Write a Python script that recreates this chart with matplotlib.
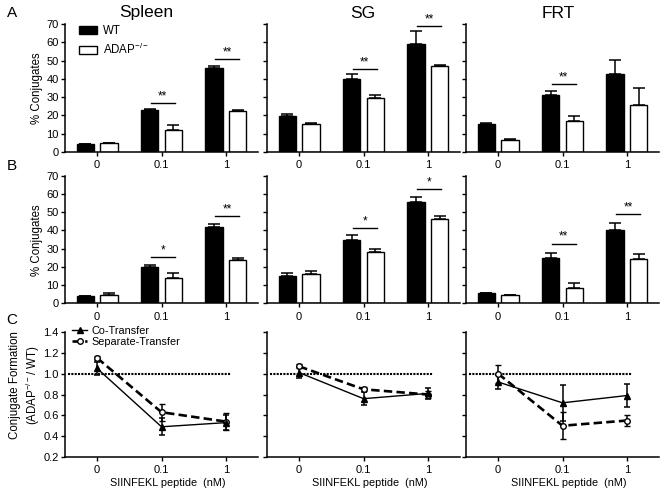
import numpy as np
import matplotlib
matplotlib.use('Agg')
import matplotlib.pyplot as plt
from matplotlib.patches import Patch
from matplotlib.lines import Line2D

plt.rcParams['font.family'] = ['Liberation Sans', 'DejaVu Sans']
plt.rcParams['mathtext.default'] = 'regular'

# ---- data ----
tissues = ['Spleen', 'SG', 'FRT']
doses = ['0', '0.1', '1']

# row A: % conjugates
spleen_a_wt = [4.3, 23.0, 46.0]
spleen_a_wt_err = [0.3, 0.5, 1.2]
spleen_a_ko = [4.7, 12.2, 22.2]
spleen_a_ko_err = [0.4, 2.4, 0.5]
sg_a_wt = [19.7, 40.0, 59.2]
sg_a_wt_err = [1.3, 2.6, 6.8]
sg_a_ko = [15.2, 29.8, 47.0]
sg_a_ko_err = [0.8, 1.6, 0.7]
frt_a_wt = [15.4, 31.4, 42.8]
frt_a_wt_err = [0.6, 1.9, 7.5]
frt_a_ko = [6.4, 17.2, 25.6]
frt_a_ko_err = [0.7, 2.5, 9.4]

# row B: % conjugates
spleen_b_wt = [4.0, 19.7, 42.0]
spleen_b_wt_err = [0.2, 1.5, 1.5]
spleen_b_ko = [4.6, 14.1, 24.0]
spleen_b_ko_err = [0.9, 2.4, 1.0]
sg_b_wt = [15.2, 34.7, 55.8]
sg_b_wt_err = [1.3, 2.8, 2.5]
sg_b_ko = [16.1, 28.3, 46.3]
sg_b_ko_err = [1.8, 1.3, 1.6]
frt_b_wt = [5.5, 25.0, 40.0]
frt_b_wt_err = [0.0, 2.8, 4.2]
frt_b_ko = [4.8, 8.4, 24.3]
frt_b_ko_err = [0.0, 2.6, 2.7]

# significance bars: (dose index, height, label)
spleen_a_sig = [(1, 26.7, '**'), (2, 50.8, '**')]
sg_a_sig = [(1, 45.3, '**'), (2, 68.7, '**')]
frt_a_sig = [(1, 37.1, '**')]
spleen_b_sig = [(1, 25.4, '*'), (2, 47.9, '**')]
sg_b_sig = [(1, 41.3, '*'), (2, 62.5, '*')]
frt_b_sig = [(1, 32.7, '**'), (2, 48.8, '**')]

# row C: conjugate formation ratio ADAP-/- / WT
spleen_co = [1.05, 0.49, 0.53]
spleen_co_err = [0.065, 0.08, 0.07]
spleen_sep = [1.15, 0.63, 0.54]
spleen_sep_err = [0.02, 0.08, 0.085]
sg_co = [1.01, 0.76, 0.81]
sg_co_err = [0.055, 0.06, 0.05]
sg_sep = [1.07, 0.85, 0.80]
sg_sep_err = [0.02, 0.02, 0.03]
frt_co = [0.92, 0.72, 0.79]
frt_co_err = [0.065, 0.17, 0.11]
frt_sep = [1.00, 0.50, 0.55]
frt_sep_err = [0.085, 0.13, 0.055]

W, H = 666, 494
fig = plt.figure(figsize=(W / 100, H / 100), dpi=100)

col_left = [65, 267, 466]
col_width = 193


def make_ax(left, top, bottom):
    return fig.add_axes([left / W, 1 - bottom / H, col_width / W, (bottom - top) / H])


def style_ax(ax):
    for s in ['top', 'right']:
        ax.spines[s].set_visible(False)
    for s in ['left', 'bottom']:
        ax.spines[s].set_linewidth(1.1)
    ax.tick_params(direction='out', length=3, width=1, labelsize=8, pad=1.5)
    ax.tick_params(axis='x', pad=3)
    ax.set_xlim(-0.5, 2.5)
    ax.set_xticks(range(3))
    ax.set_xticklabels(doses)


def bar_panel(ax, wt, wt_err, ko, ko_err, sig, show_labels):
    x = np.arange(3)
    w, off = 0.27, 0.185
    ekw = dict(elinewidth=1.1, capthick=1.1, ecolor='black')
    ax.bar(x - off, wt, w, color='black', edgecolor='black', lw=1,
           yerr=[np.zeros(3), wt_err], capsize=4.5, error_kw=ekw)
    ax.bar(x + off, ko, w, color='white', edgecolor='black', lw=1,
           yerr=[np.zeros(3), ko_err], capsize=4.5, error_kw=ekw)
    for i, y, s in sig:
        ax.plot([i - 0.17, i + 0.21], [y, y], color='black', lw=1, clip_on=False)
        ax.text(i + 0.02, y + 0.5, s, ha='center', va='bottom', fontsize=8.5, clip_on=False)
    style_ax(ax)
    ax.set_ylim(0, 70)
    ax.set_yticks(range(0, 71, 10))
    if not show_labels:
        ax.set_yticklabels([])


def line_panel(ax, co, co_err, sep, sep_err, show_labels):
    x = np.arange(3)
    ax.plot([-0.45, 2.08], [1, 1], color='black', lw=1.5, linestyle=(0, (1, 0.6)))
    ax.errorbar(x, sep, yerr=sep_err, color='black', lw=1.9, linestyle=(0, (3.2, 1.6)),
                marker='o', ms=4, mfc='white', mec='black', mew=1,
                elinewidth=1.1, capsize=2.4, capthick=1.1)
    ax.errorbar(x, co, yerr=co_err, color='black', lw=1,
                marker='^', ms=4, mfc='black', mec='black',
                elinewidth=1.1, capsize=2.4, capthick=1.1)
    style_ax(ax)
    ax.set_ylim(0.2, 1.4)
    ax.set_yticks(np.arange(0.2, 1.41, 0.2))
    if show_labels:
        ax.set_yticklabels(['%.1f' % v for v in np.arange(0.2, 1.41, 0.2)])
    else:
        ax.set_yticklabels([])
    fig.text((ax.get_position().x0 + ax.get_position().x1) / 2 + 6 / W, 1 - 483 / H,
             'SIINFEKL peptide  (nM)', ha='center', va='center', fontsize=7.8)


a_data = [(spleen_a_wt, spleen_a_wt_err, spleen_a_ko, spleen_a_ko_err, spleen_a_sig),
          (sg_a_wt, sg_a_wt_err, sg_a_ko, sg_a_ko_err, sg_a_sig),
          (frt_a_wt, frt_a_wt_err, frt_a_ko, frt_a_ko_err, frt_a_sig)]
b_data = [(spleen_b_wt, spleen_b_wt_err, spleen_b_ko, spleen_b_ko_err, spleen_b_sig),
          (sg_b_wt, sg_b_wt_err, sg_b_ko, sg_b_ko_err, sg_b_sig),
          (frt_b_wt, frt_b_wt_err, frt_b_ko, frt_b_ko_err, frt_b_sig)]
c_data = [(spleen_co, spleen_co_err, spleen_sep, spleen_sep_err),
          (sg_co, sg_co_err, sg_sep, sg_sep_err),
          (frt_co, frt_co_err, frt_sep, frt_sep_err)]

for j in range(3):
    ax = make_ax(col_left[j], 24, 152)
    bar_panel(ax, *a_data[j], show_labels=(j == 0))
    ax = make_ax(col_left[j], 175.7, 303.3)
    bar_panel(ax, *b_data[j], show_labels=(j == 0))
    ax = make_ax(col_left[j], 332, 457)
    line_panel(ax, *c_data[j], show_labels=(j == 0))

# titles and panel letters
for name, xc in zip(tissues, [146, 363, 558]):
    fig.text(xc / W, 1 - 13 / H, name, ha='center', va='center', fontsize=12.5)
for letter, yc in zip('ABC', [13, 166, 320]):
    fig.text(12 / W, 1 - yc / H, letter, ha='center', va='center', fontsize=11)

# y labels
fig.text(37 / W, 1 - 88 / H, '% Conjugates', rotation=90, ha='center', va='center', fontsize=8.3)
fig.text(37 / W, 1 - 240 / H, '% Conjugates', rotation=90, ha='center', va='center', fontsize=8.3)
fig.text(15 / W, 1 - 385 / H, 'Conjugate Formation', rotation=90, ha='center', va='center', fontsize=8.3)
fig.text(33 / W, 1 - 385 / H, '(ADAP$^{-/-}$/ WT)', rotation=90, ha='center', va='center', fontsize=8.3)

# legends
bar_handles = [Patch(facecolor='black', edgecolor='black'),
               Patch(facecolor='white', edgecolor='black', lw=1)]
fig.legend(bar_handles, ['WT', 'ADAP$^{-/-}$'], loc='upper left',
           bbox_to_anchor=(79 / W, 1 - 25 / H), frameon=False, fontsize=8.3,
           handlelength=1.6, handleheight=0.65, handletextpad=0.5,
           labelspacing=0.4, borderpad=0, borderaxespad=0)

line_handles = [Line2D([], [], color='black', lw=1, marker='^', ms=4),
                Line2D([], [], color='black', lw=1.9, linestyle=(0, (3.2, 1.6)),
                       marker='o', ms=4, mfc='white')]
fig.legend(line_handles, ['Co-Transfer', 'Separate-Transfer'], loc='upper left',
           bbox_to_anchor=(72 / W, 1 - 326 / H), frameon=False, fontsize=7.8,
           handlelength=1.4, handletextpad=0.4, labelspacing=0.1,
           borderpad=0, borderaxespad=0)

fig.savefig('out.png', dpi=100)
